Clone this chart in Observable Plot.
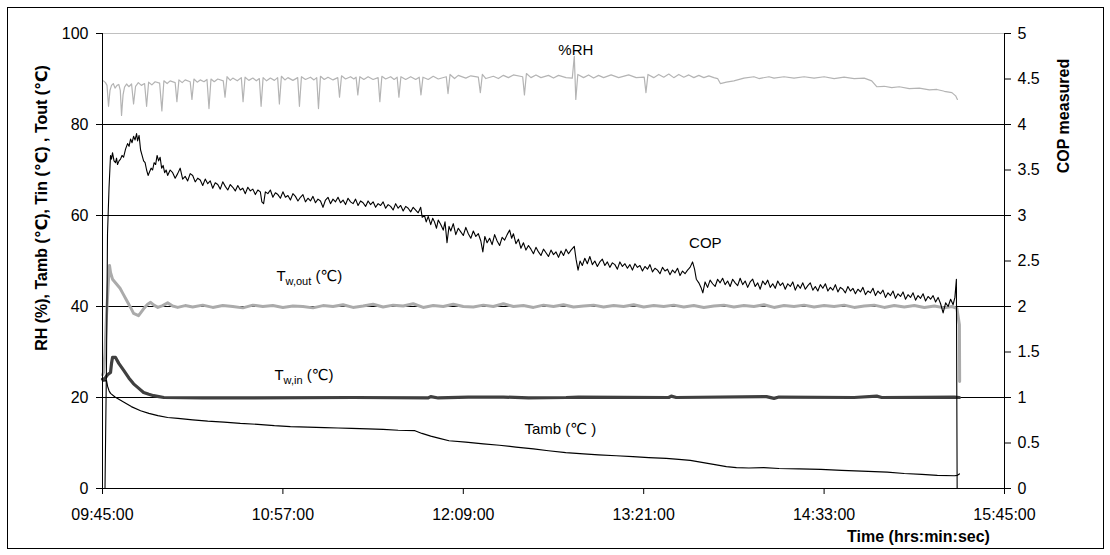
<!DOCTYPE html>
<html><head><meta charset="utf-8">
<script src="https://cdn.jsdelivr.net/npm/d3@7"></script>
<script src="https://cdn.jsdelivr.net/npm/@observablehq/plot@0.6"></script>
<style>
body{margin:0;background:#fff;}
#wrap{position:relative;width:1110px;height:555px;overflow:hidden;}
#frame{position:absolute;left:7px;top:7px;width:1095px;height:540px;border:1px solid #000;}
#chart{position:absolute;left:0;top:0;}
</style></head><body><div id="wrap"><div id="frame"></div><div id="chart"></div></div>
<script>
// x values are minutes after 09:45:00
const tickMinutes = [0, 72, 144, 216, 288, 360];
const tickLabels = ["09:45:00", "10:57:00", "12:09:00", "13:21:00", "14:33:00", "15:45:00"];
const leftTicks = [0, 20, 40, 60, 80, 100];
const copTicks = [0, 0.5, 1, 1.5, 2, 2.5, 3, 3.5, 4, 4.5, 5];

const rh = [[0.4,89.6],[1.2,89.2],[1.8,88.6],[2.4,84],[3.0,87.5],[3.6,88.6],[4.3,89],[5,88],[5.8,88.6],[6.5,88.8],[7.1,87.5],[7.6,82],[8.2,86.5],[8.8,88.2],[9.6,88.9],[10.5,88.3],[11.6,88.9],[12.4,84.5],[13.2,88.4],[14.3,89.2],[15.5,88.6],[16.8,89],[17.6,84],[18.4,89.3],[19.7,88.7],[21,89.4],[22.8,89.1],[23.7,83],[24.5,89.6],[25.8,89],[27,89.6],[29,89.2],[29.7,85],[30.5,89.8],[31.8,89.2],[33,89.8],[35,89.4],[35.7,85.5],[36.5,90],[37.8,89.3],[39,89.8],[40.5,89.4],[41.7,89.9],[42.5,83.5],[43.3,90],[44.6,89.4],[46,90],[48.2,89.6],[48.9,86],[49.7,90.5],[51,89.7],[52,90.2],[53.8,89.6],[55.4,90.3],[56.1,85],[56.9,90.4],[58.4,89.7],[60,90.2],[61.4,89.6],[62.6,90.1],[63.3,84],[64.1,90.3],[65.5,89.6],[67,90.2],[68.6,89.7],[69.9,90.3],[70.6,84.5],[71.4,90.6],[72.8,89.8],[74,90.3],[76,89.7],[77.9,90.3],[78.6,84],[79.4,90.5],[81,89.9],[83,90.4],[84.4,89.8],[85.5,90.3],[86.2,83.5],[87,90.6],[88.5,89.9],[90,90.4],[92,89.8],[93.9,90.3],[94.6,86],[95.4,90.7],[97,90],[99,90.5],[100.3,90],[101.2,90.4],[101.9,86.5],[102.7,90.5],[104.3,89.9],[106,90.5],[108,89.9],[110,90.3],[110.7,85],[111.5,90.6],[113,90],[115,90.5],[116.4,89.9],[117.6,90.4],[118.3,86],[119.1,90.5],[121,89.9],[123,90.5],[125,89.9],[126.4,90.4],[127.1,86.5],[127.9,90.4],[130,89.9],[132,90.6],[134,90],[137.2,90.5],[137.9,86.8],[138.7,91],[140.5,90.1],[142,90.8],[145,90.2],[147,90.7],[150,90.4],[150.8,87],[151.6,91],[153,90.1],[156,90.6],[158,90.1],[160,90.8],[162,90.3],[164,90.9],[167.7,90.5],[168.4,86.5],[169.2,91.2],[171,90.3],[173,90.9],[175,90.3],[178,90.8],[180,90.2],[182,90.8],[185,90.3],[187.5,90.2],[188.3,95],[188.9,85.5],[189.7,91],[192,90.3],[194,90.9],[196,90.2],[198,90.8],[200,90.3],[203,90.9],[206,90.3],[210,90.9],[213,90.3],[216.2,90.4],[216.9,87],[217.7,91],[220,90.3],[222,91],[224,90.4],[226,91.1],[228,90.3],[230,91],[232,90.4],[234,90.9],[236,90.3],[238,90.8],[240,90.3],[242,90.7],[244,90.3],[245.5,90.1],[246.6,89],[249,89.3],[252,89.6],[256,90.2],[260,90.5],[262,90.1],[266,90.5],[268,90.2],[272,90.5],[276,90.2],[280,90.5],[284,90.2],[288,90.5],[292,90.1],[296,90.4],[300,90.1],[304,90.2],[307,89.6],[309,88.3],[312,88.4],[315,88.1],[318,88.3],[322,87.9],[326,88],[330,87.6],[333,87.7],[336,87.3],[339,87],[340.5,86.3],[341.2,85.5]];

const cop = [[1.0,0],[1.6,1.4],[2.0,2.8],[2.6,3.3],[3.2,3.66],[3.6,3.62],[4.0,3.69],[4.6,3.6],[5.2,3.58],[5.6,3.63],[6.0,3.56],[6.6,3.6],[7.2,3.62],[7.8,3.66],[8.4,3.64],[9.2,3.73],[10.0,3.79],[10.6,3.76],[11.2,3.84],[11.8,3.8],[12.4,3.87],[13.0,3.83],[13.6,3.9],[14.0,3.82],[14.6,3.88],[15.2,3.72],[15.8,3.66],[16.4,3.6],[17.0,3.58],[17.6,3.5],[18.2,3.44],[18.8,3.48],[19.4,3.52],[20.0,3.5],[20.6,3.58],[21.2,3.56],[21.8,3.66],[22.4,3.6],[23.0,3.64],[23.6,3.52],[24.2,3.55],[24.8,3.47],[25.4,3.5],
[26,3.44],[27,3.5],[28,3.47],[29,3.41],[30,3.46],[31,3.52],[32,3.4],[33,3.43],[34,3.38],[35,3.46],[36,3.44],[37,3.37],[38,3.41],[39,3.39],[40,3.33],[41,3.4],[42,3.35],[43,3.38],[44,3.3],[45,3.36],[46,3.34],[47,3.29],[48,3.37],[49,3.32],[50,3.28],[51,3.34],[52,3.31],[53,3.27],[54,3.33],[55,3.28],[56,3.3],[57,3.24],[58,3.31],[59,3.27],[60,3.29],[61,3.23],[62,3.28],[63,3.26],[63.6,3.15],[64.3,3.13],[65,3.26],[66,3.24],[67,3.28],[68,3.2],[69,3.25],[70,3.23],[71,3.19],[72,3.26],[73,3.2],[74,3.22],[75,3.17],[76,3.24],[77,3.21],[78,3.16],[79,3.2],[80,3.23],[81,3.15],[82,3.19],[83,3.16],[84,3.21],[85,3.14],[86,3.18],[87,3.16],[88,3.09],[89,3.17],[90,3.2],[91,3.13],[92,3.18],[93,3.15],[94,3.2],[95,3.14],[96,3.17],[97,3.12],[98,3.19],[99,3.15],[100,3.13],[101,3.18],[102,3.11],[103,3.16],[104,3.14],[105,3.1],[106,3.16],[107,3.12],[108,3.15],[109,3.09],[110,3.13],[111,3.11],[112,3.15],[113,3.08],[114,3.12],[115,3.1],[116,3.06],[117,3.13],[118,3.08],[119,3.11],[120,3.05],[121,3.1],[122,3.08],[123,3.04],[124,3.09],[125,3.06],[126,3.03],[127,3.09],[127.6,2.98],
[128.5,3.0],[129.2,2.93],[130,2.99],[131,2.9],[131.8,2.97],[132.5,2.93],[133.3,2.86],[134,2.95],[135,2.9],[136,2.84],[136.7,2.93],[137.5,2.7],[138.3,2.88],[139,2.83],[140,2.91],[141,2.79],[142,2.86],[143,2.82],[144,2.78],[145,2.87],[146,2.8],[147,2.75],[148,2.83],[149,2.77],[150,2.8],[151,2.72],[151.8,2.6],[152.6,2.77],[153.5,2.7],[154.5,2.75],[155.5,2.68],[156.5,2.79],[157.5,2.72],[158.5,2.67],[159.5,2.76],[160.5,2.73],[161.5,2.79],[162.5,2.84],[163.3,2.75],[164,2.8],[165,2.69],[166,2.74],[167,2.64],[168,2.7],[169,2.62],[170,2.67],[171,2.63],[172,2.58],[173,2.65],[174,2.6],[175,2.56],[176,2.63],[177,2.59],[178,2.55],[179,2.62],[180,2.57],[181,2.6],[182,2.54],[183,2.61],[184,2.56],[185,2.63],[186,2.58],[187,2.62],[188.3,2.66],[189,2.52],[189.8,2.4],[190.6,2.5],[191.5,2.45],[192.5,2.53],[193.5,2.47],[194.5,2.55],[195.5,2.46],[196.5,2.5],[197.5,2.44],[198.5,2.49],[199.5,2.52],[200.5,2.45],[201.5,2.49],[202.5,2.43],[203.5,2.48],[204.5,2.46],[205.5,2.41],[206.5,2.49],[207.5,2.44],[208.5,2.47],[209.5,2.42],[210.5,2.46],[211.5,2.4],[212.5,2.47],[213.5,2.43],[214.5,2.45],[215.5,2.39],[216.5,2.44],[217.5,2.41],[218.5,2.46],[219.5,2.38],[220.5,2.42],[221.5,2.4],[222.5,2.36],[223.5,2.43],[224.5,2.39],[225.5,2.41],[226.5,2.35],[227.5,2.4],[228.5,2.37],[229.5,2.42],[230.5,2.34],[231.5,2.39],[232.5,2.36],[233.5,2.4],[234.5,2.43],[235.5,2.49],[236.3,2.41],[237,2.3],[238,2.26],[239,2.2],[239.6,2.15],[240.5,2.27],[241.5,2.21],[242.5,2.29],[243.5,2.25],[244.5,2.22],[245.5,2.3],[246.5,2.26],[247.5,2.31],[248.5,2.24],[249.5,2.28],[250.5,2.22],[251.5,2.3],[252.5,2.26],[253.5,2.23],[254.5,2.31],[255.5,2.24],[256.5,2.28],[257.5,2.21],[258.5,2.27],[259.5,2.3],[260.5,2.22],[261.5,2.26],[262.5,2.19],[263.5,2.28],[264.5,2.24],[265.5,2.29],[266.5,2.21],[267.5,2.25],[268.5,2.2],[269.5,2.28],[270.5,2.23],[271.5,2.26],[272.5,2.19],[273.5,2.25],[274.5,2.22],[275.5,2.27],[276.5,2.18],[277.5,2.24],[278.5,2.2],[279.5,2.26],[280.5,2.19],[281.5,2.23],[282.5,2.26],[283.5,2.18],[284.5,2.22],[285.5,2.17],[286.5,2.24],[287.5,2.2],[288.5,2.25],[289.5,2.17],[290.5,2.21],[291.5,2.18],[292.5,2.24],[293.5,2.16],[294.5,2.21],[295.5,2.19],[296.5,2.15],[297.5,2.22],[298.5,2.17],[299.5,2.2],[300.5,2.14],[301.5,2.19],[302.5,2.16],[303.5,2.21],[304.5,2.13],[305.5,2.17],[306.5,2.15],[307.5,2.2],[308.5,2.12],[309.5,2.17],[310.5,2.14],[311.5,2.18],[312.5,2.1],[313.5,2.15],[314.5,2.12],[315.5,2.17],[316.5,2.09],[317.5,2.14],[318.5,2.11],[319.5,2.16],[320.5,2.08],[321.5,2.13],[322.5,2.1],[323.5,2.15],[324.5,2.07],[325.5,2.12],[326.5,2.09],[327.5,2.14],[328.5,2.06],[329.5,2.11],[330.5,2.08],[331.5,2.12],[332.5,2.05],[333.5,2.1],[334.5,2.03],[335.5,1.93],[336.5,2.04],[337.5,2.0],[338.5,2.08],[339.5,2.02],[340.2,2.1],[340.8,2.3],[341.1,0]];

const twOut = [[0,25],[0.4,25.5],[1.0,30],[1.6,38],[2.4,46],[2.8,49],[3.2,47.5],[4.0,46],[5.5,45],[7,44],[8,43],[9.5,41.5],[11.2,39.8],[12.4,38.5],[14.4,38],[16.4,39.5],[18,40.5],[19.2,40.9],[20.5,40.3],[22.1,39.8],[24,40.2],[26,40.8],[28,40.1],[30,39.8],[33,40.2],[36,39.9],[40,40.3],[44,39.8],[48,40.2],[52,40],[56,39.7],[60,40.3],[64,40],[68,40.2],[72,39.8],[76,40.1],[80,40],[84,39.7],[88,40.2],[92,40],[96,40.4],[100,39.8],[104,40.1],[108,40.5],[112,39.9],[116,40.3],[120,40.1],[124,40.6],[128,39.8],[132,40.2],[136,40],[140,40.5],[144,40],[148,39.9],[152,40.3],[156,40],[160,40.6],[164,40],[168,40.2],[172,39.8],[176,40.3],[180,40],[184,40.4],[188,39.9],[192,40.1],[196,40.3],[200,39.9],[204,40.2],[208,40],[212,40.4],[216,39.9],[220,40.2],[224,40],[228,40.3],[232,39.9],[236,40.2],[240,39.8],[244,40.1],[248,40.3],[252,39.9],[256,40.2],[260,40],[264,40.4],[268,39.8],[272,40.2],[276,40],[280,40.3],[284,39.9],[288,40.2],[292,40],[296,40.3],[300,39.8],[304,40.1],[308,40.3],[312,39.8],[316,40.2],[320,39.9],[324,40.2],[328,39.8],[332,40.1],[336,39.7],[339,40],[341,39.6],[342,36],[342.1,23.5]];

const twIn = [[0,24],[1,24.2],[2.0,25],[3.2,25.5],[3.6,27.5],[4.0,28.8],[5.2,28.8],[6.5,27.5],[8.4,26],[10.5,24.3],[12.4,23],[14.5,22],[16.4,21.1],[18.5,20.7],[20.4,20.4],[22.5,20.2],[24.5,20],[40,19.9],[60,19.9],[100,20],[130,19.9],[131,20.2],[134,19.9],[146,20.1],[160,20.1],[170,19.9],[185,20],[190,20.1],[226,20],[227,20.3],[229,20],[265,20.2],[268,19.8],[270,20.1],[300,20],[309,20.3],[311,20],[340,20.1],[342,20]];

const tamb = [[0,23.6],[1.6,23.7],[2.0,22.5],[2.6,21.5],[3.2,20.9],[5,20.1],[8.4,19],[11.5,18],[15.2,17.1],[18.5,16.5],[22.1,16],[26,15.6],[30.1,15.4],[36,15.1],[42,14.8],[48.5,14.6],[55,14.3],[62,14.1],[68.6,13.8],[75,13.6],[82,13.5],[88.6,13.4],[94,13.3],[99.4,13.2],[106,13.1],[112,13.0],[118,12.8],[124.7,12.7],[127.5,12.1],[131,11.5],[134.5,11],[138.3,10.5],[145,10.2],[152,9.8],[158.4,9.5],[165,9.1],[172,8.7],[178,8.3],[184.9,7.9],[192,7.6],[198,7.4],[205,7.2],[211.7,7.0],[218,6.8],[225,6.6],[230,6.4],[234.6,6.2],[239.8,5.7],[245,5.2],[249,4.8],[253,4.6],[258,4.5],[263.9,4.6],[270,4.4],[278,4.3],[286.7,4.2],[295,4.0],[303,3.8],[313.2,3.6],[320,3.3],[327,3.1],[333.2,2.9],[340,2.8],[341.2,2.9],[342,3.2]];

const labelText = ["%RH", "COP"];
const labelT = [188.9, 240.6];
const labelV = [96.4, 54];
const startLabelText = ["T|w,out| (℃)", "T|w,in| (℃)", "Tamb (℃ )"];
const startLabelT = [69.4, 68.6, 168.4];
const startLabelV = [46.6, 25, 13];

const COP_FACTOR = 20; // right axis 0..5 shares the left 0..100 frame
const font = "'Liberation Sans', Arial, 'DejaVu Sans', sans-serif";

const midLabels = labelText.map((s, i) => ({s, t: labelT[i], v: labelV[i]}));
const startLabels = startLabelText.map((s, i) => ({s, t: startLabelT[i], v: startLabelV[i]}));

const chart = Plot.plot({
  width: 1110, height: 555,
  marginLeft: 102, marginRight: 106, marginTop: 33, marginBottom: 67,
  style: {fontFamily: font, fontSize: "16px", color: "#000", background: "transparent", overflow: "visible"},
  x: {domain: [0, 360], axis: null},
  y: {domain: [0, 100], axis: null},
  marks: [
    Plot.ruleY([100], {stroke: "#c0c0c0", strokeWidth: 1}),
    Plot.ruleY([20, 40, 60, 80], {stroke: "#000", strokeWidth: 1}),
    Plot.line(twOut, {x: d => d[0], y: d => d[1], stroke: "#ababab", strokeWidth: 3, strokeLinejoin: "round"}),
    Plot.line(twIn, {x: d => d[0], y: d => d[1], stroke: "#404040", strokeWidth: 3.2, strokeLinejoin: "round"}),
    Plot.line(tamb, {x: d => d[0], y: d => d[1], stroke: "#000", strokeWidth: 1.2, strokeLinejoin: "round"}),
    Plot.line(rh, {x: d => d[0], y: d => d[1], stroke: "#b4b4b4", strokeWidth: 1.2, strokeLinejoin: "round"}),
    Plot.line(cop, {x: d => d[0], y: d => d[1] * COP_FACTOR, stroke: "#000", strokeWidth: 1.1, strokeLinejoin: "round"}),
    Plot.ruleY([0], {stroke: "#000", strokeWidth: 1}),
    Plot.ruleX([0, 360], {y1: 0, y2: 100, stroke: "#000", strokeWidth: 1}),
    Plot.axisX({ticks: tickMinutes, tickFormat: d => tickLabels[tickMinutes.indexOf(d)], tickSize: 6, tickPadding: 14, label: null, fontSize: 16}),
    Plot.axisY({anchor: "left", ticks: leftTicks, tickSize: 6, tickPadding: 8, label: null, fontSize: 16}),
    Plot.axisY({anchor: "right", ticks: copTicks.map(v => v * COP_FACTOR), tickFormat: d => String(d / COP_FACTOR), tickSize: 6, tickPadding: 7, label: null, fontSize: 16}),
    Plot.text(midLabels, {x: "t", y: "v", text: "s", textAnchor: "middle", fontSize: 15, fill: "#000"}),
    Plot.text(startLabels, {x: "t", y: "v", text: "s", textAnchor: "start", fontSize: 15, fill: "#000"}),
    Plot.text(["RH (%), Tamb (℃), Tin (℃) , Tout (℃)"], {frameAnchor: "left", dx: -61, dy: -53, rotate: -90, text: d => d, fontWeight: "bold", fontSize: 16, textAnchor: "middle"}),
    Plot.text(["COP measured"], {frameAnchor: "right", dx: 59, dy: -145, rotate: -90, text: d => d, fontWeight: "bold", fontSize: 16, textAnchor: "middle"}),
    Plot.text(["Time (hrs:min:sec)"], {frameAnchor: "bottom", dx: 365, dy: 53, text: d => d, fontWeight: "bold", fontSize: 16, textAnchor: "middle"})
  ]
});

d3.select(chart).selectAll("text").each(function() {
  const t = this.textContent;
  if (t.includes("|")) {
    const [a, b, c] = t.split("|");
    const s = d3.select(this);
    s.text(null);
    s.append("tspan").text(a);
    s.append("tspan").attr("font-size", 11).attr("dy", 4).text(b);
    s.append("tspan").attr("dy", -4).text(c);
  }
});

document.getElementById("chart").appendChild(chart);
</script>
</body></html>
